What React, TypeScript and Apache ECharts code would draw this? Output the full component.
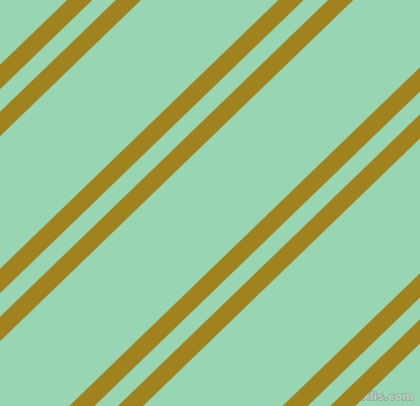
import React, { useEffect, useRef } from 'react';
import * as echarts from 'echarts';

// stripe pattern
const stripeIntercepts: number[] = [77, 124, 281, 329, 485, 532, 691, 737]; // y where each stripe meets x = 0
const stripeAngle = 44; // degrees, rising to the right
const xSpan: number[] = [-30, 450];
const watermark = 'pixlis.com';

const App: React.FC = () => {
    const chartRef: any = useRef(null);

    useEffect(() => {
        const chart = echarts.init(chartRef.current, null, { renderer: 'svg' });
        const slope = Math.tan((stripeAngle * Math.PI) / 180);

        const series = stripeIntercepts.map((b, i) => ({
            name: 'stripe' + i,
            type: 'line',
            data: xSpan.map((x) => [x, b - slope * x]),
            symbol: 'none',
            clip: true,
            silent: true,
            lineStyle: { color: '#A0821F', width: 17.5, cap: 'butt' },
        }));

        const option = {
            animation: false,
            backgroundColor: '#97D5B3',
            grid: { left: 0, right: 0, top: 0, bottom: 0 },
            xAxis: { type: 'value', min: 0, max: 420, show: false },
            yAxis: { type: 'value', min: 0, max: 406, inverse: true, show: false },
            series,
            graphic: [
                {
                    type: 'text',
                    right: 6,
                    bottom: 4,
                    style: {
                        text: watermark,
                        font: 'bold 11px "DejaVu Sans", sans-serif',
                        fill: 'rgba(200,210,205,0.9)',
                        stroke: 'rgba(120,140,130,0.8)',
                        lineWidth: 1,
                    },
                },
            ],
        };
        chart.setOption(option as any);
        return () => {
            chart.dispose();
        };
    }, []);

    return (
        <div
            ref={chartRef}
            style={{ position: 'fixed', left: 0, top: 0, width: 420, height: 406 }}
        ></div>
    );
};

export default App;
